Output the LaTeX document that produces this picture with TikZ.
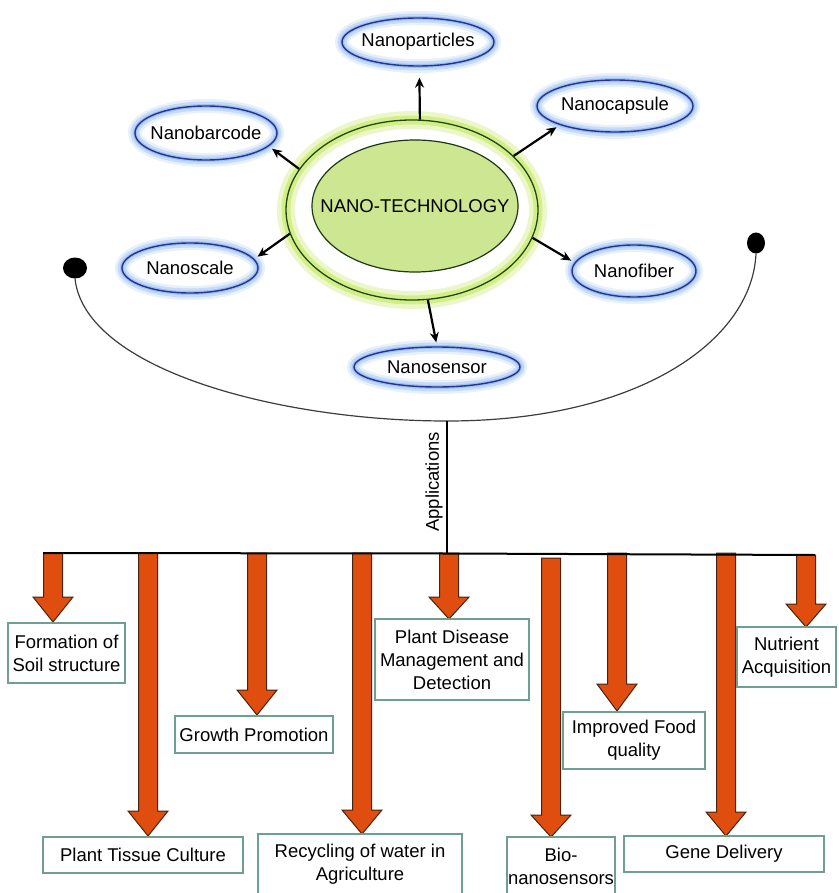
\documentclass[tikz,border=0pt]{standalone}
\usepackage{fontspec}
\setmainfont{Liberation Sans}
\usetikzlibrary{shapes.geometric,arrows.meta}
\definecolor{satline}{RGB}{40,50,150}
\definecolor{satglow}{RGB}{120,170,235}
\definecolor{greenglow}{RGB}{190,230,80}
\definecolor{greenline}{RGB}{35,70,25}
\definecolor{greenfill}{RGB}{204,230,145}
\definecolor{orangefill}{RGB}{224,78,15}
\definecolor{orangeline}{RGB}{70,35,15}
\definecolor{boxline}{RGB}{110,158,148}
\definecolor{arcline}{RGB}{60,60,60}
\begin{document}
\begin{tikzpicture}[x=1pt,y=-1pt,
  font=\fontsize{18.5}{23}\selectfont,
  sat/.style={ellipse, inner sep=0pt, draw=satline, line width=1.4pt,
    preaction={draw=satglow, line width=14pt, draw opacity=0.18},
    preaction={draw=satglow, line width=9pt, draw opacity=0.3},
    preaction={draw=satglow, line width=4pt, draw opacity=0.5}},
  outerring/.style={ellipse, inner sep=0pt, draw=greenline, line width=1.3pt,
    preaction={draw=greenglow, line width=18pt, draw opacity=0.3},
    preaction={draw=greenglow, line width=9pt, draw opacity=0.55}},
  innercore/.style={ellipse, inner sep=0pt, draw=greenline!80!black, line width=1.2pt, fill=greenfill},
  lbl/.style={inner sep=0pt},
  conn/.style={line width=2.2pt, -{Stealth[length=10pt,width=9pt]}, shorten >=4pt},
  dotnode/.style={ellipse, fill=black, inner sep=0pt},
  oarrow/.style={fill=orangefill, draw=orangeline, line width=1pt, line join=miter},
  appbox/.style={draw=boxline, line width=1.2pt, fill=white, align=center, inner sep=0pt},
]
\useasboundingbox (0,0) rectangle (838,893);

% central ellipses
\node[outerring, minimum width=252pt, minimum height=180pt] (nt) at (412,210) {};
\node[innercore, minimum width=206pt, minimum height=132pt] (ni) at (415,206) {};
\node[lbl] (ntt) at (ni.center) {NANO-TECHNOLOGY};

% satellites
\node[sat, minimum width=152pt, minimum height=48pt] (np) at (418,42) {};
\node[lbl] (npt) at (np.center) {Nanoparticles};
\node[sat, minimum width=142pt, minimum height=54pt] (nb) at (206,133) {};
\node[lbl] (nbt) at (nb.center) {Nanobarcode};
\node[sat, minimum width=156pt, minimum height=52pt] (nc) at (615,106) {};
\node[lbl] (nct) at (nc.center) {Nanocapsule};
\node[sat, minimum width=136pt, minimum height=50pt] (ns) at (190,268) {};
\node[lbl] (nst) at (ns.center) {Nanoscale};
\node[sat, minimum width=124pt, minimum height=52pt] (nf) at (634,271) {};
\node[lbl] (nft) at (nf.center) {Nanofiber};
\node[sat, minimum width=166pt, minimum height=40pt] (nn) at (437,367) {};
\node[lbl] (nnt) at (nn.center) {Nanosensor};

% arrows from the centre
\draw[conn, shorten >=11pt] (nt.85) -- (np.-87);
\draw[conn] (nt.160) -- (nb.-12);
\draw[conn] (nt.28) -- (nc.199);
\draw[conn] (nt.191) -- (ns.8);
\draw[conn] (nt.-13) -- (nf.172);
\draw[conn] (nt.-80) -- (nn.90);

% big arc with dots
\node[dotnode, minimum width=24pt, minimum height=21pt] (ld) at (75,268) {};
\node[dotnode, minimum width=18pt, minimum height=21pt] (rd) at (756,243) {};
\coordinate (arcb) at (447,421);
\draw[arcline, line width=1.2pt] (ld.south) .. controls (85,370) and (280,421) .. (arcb)
  .. controls (640,421) and (752,340) .. (rd.south);

% stem and bar
\coordinate (hbl) at (43,553);
\coordinate (hbm) at (447,553.5);
\coordinate (hbr) at (815,555);
\draw[line width=1.2pt] (arcb) -- (hbm);
\node[lbl, rotate=90] (app) at (434,482) {Applications};

% orange arrows
\foreach \cx/\yt/\yh/\ytip in {53/553/597/622, 148/553/811/836, 257/553/690/715, 362/553/810/834, 449/553/597/619, 551/558/815/837, 617/553/684/711, 726/553/812/836, 806/555/604/627}{
  \draw[oarrow] ({\cx-9.5},\yt) -- ({\cx+9.5},\yt) -- ({\cx+9.5},\yh) -- ({\cx+20},\yh) -- (\cx,\ytip) -- ({\cx-20},\yh) -- ({\cx-9.5},\yh) -- cycle;
}
\draw[line width=2pt] (hbl) -- (hbm) -- (hbr);

% boxes
\node[appbox, minimum width=117pt, minimum height=60pt] (b1) at (66.5,653) {Formation of\\Soil structure};
\node[appbox, minimum width=200pt, minimum height=36pt] (b2) at (143,855) {Plant Tissue Culture};
\node[appbox, minimum width=158pt, minimum height=37pt] (b3) at (254,734.5) {Growth Promotion};
\node[appbox, minimum width=204pt, minimum height=60pt] (b4) at (360,864) {Recycling of water in\\Agriculture};
\node[appbox, minimum width=154pt, minimum height=81pt] (b5) at (452,659.5) {Plant Disease\\Management and\\Detection};
\node[appbox, minimum width=108pt, minimum height=58pt] (b6) at (561,866) {Bio-\\nanosensors};
\node[appbox, minimum width=142pt, minimum height=57pt] (b7) at (634,740.5) {Improved Food\\quality};
\node[appbox, minimum width=200pt, minimum height=36pt] (b8) at (724,854) {Gene Delivery};
\node[appbox, minimum width=99pt, minimum height=60pt] (b9) at (786.5,657) {Nutrient\\Acquisition};
\end{tikzpicture}
\end{document}
